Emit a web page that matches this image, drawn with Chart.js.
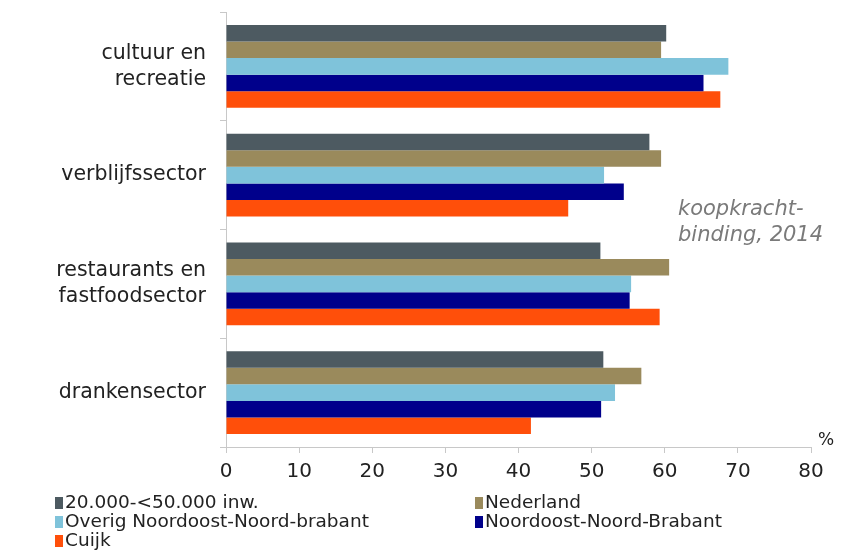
<!DOCTYPE html>
<html>
<head>
<meta charset="utf-8">
<script src="https://cdn.jsdelivr.net/npm/chart.js@4/dist/chart.umd.min.js"></script>
<style>
  html, body { margin: 0; padding: 0; background: #fff; }
  #wrap { position: relative; width: 846px; height: 551px; }
  #legend { position: absolute; left: 0; top: 0; width: 846px; height: 551px; pointer-events: none;
            font-family: "DejaVu Sans", Verdana, sans-serif; font-size: 18.5px; color: #222; }
  .li { position: absolute; white-space: nowrap; line-height: 19px; }
  .sw { display: inline-block; width: 8px; height: 12px; margin-right: 2px; vertical-align: -1px; }
</style>
</head>
<body>
<div id="wrap">
  <canvas id="c" width="846" height="551"></canvas>
  <div id="legend"></div>
</div>
<script>
const categories = [["cultuur en", "recreatie"], "verblijfssector", ["restaurants en", "fastfoodsector"], "drankensector"];
const seriesNames = ["20.000-<50.000 inw.", "Nederland", "Overig Noordoost-Noord-brabant", "Noordoost-Noord-Brabant", "Cuijk"];
const inw20000 = [60.2, 57.9, 51.2, 51.6];
const nederland = [59.5, 59.5, 60.6, 56.8];
const overigNONB = [68.7, 51.7, 55.4, 53.2];
const noordoostNB = [65.3, 54.4, 55.2, 51.3];
const cuijk = [67.6, 46.8, 59.3, 41.7];
const xTicks = [0, 10, 20, 30, 40, 50, 60, 70, 80];
const colors = ["#4d5a61", "#9a8a5c", "#7fc3da", "#00008b", "#ff4f0a"];
const annotation = ["koopkracht-", "binding, 2014"];
const unitLabel = "%";

const values = [inw20000, nederland, overigNONB, noordoostNB, cuijk];
const datasets = seriesNames.map((n, i) => ({
  label: n, data: values[i], backgroundColor: colors[i], borderWidth: 0,
  categoryPercentage: 0.76, barPercentage: 1.0
}));

const textPlugin = {
  id: 'texts',
  afterDraw(chart) {
    const ctx = chart.ctx, a = chart.chartArea;
    ctx.save();
    ctx.fillStyle = '#222';
    ctx.font = '17px "DejaVu Sans", Verdana, sans-serif';
    ctx.textAlign = 'left';
    ctx.textBaseline = 'middle';
    ctx.fillText(unitLabel, a.right + 7, a.bottom - 6);
    ctx.fillStyle = '#7a7a7a';
    ctx.font = 'italic 21px "DejaVu Sans", Verdana, sans-serif';
    annotation.forEach((t, i) => ctx.fillText(t, 678, 210 + i * 26));
    ctx.restore();
  }
};

const chart = new Chart(document.getElementById('c'), {
  type: 'bar',
  data: { labels: categories, datasets },
  options: {
    indexAxis: 'y',
    responsive: false,
    animation: false,
    events: [],
    layout: { padding: { left: 0, top: 12, right: 35, bottom: 64 } },
    plugins: { legend: { display: false }, tooltip: { enabled: false } },
    scales: {
      x: {
        min: 0, max: 80,
        afterBuildTicks: s => { s.ticks = xTicks.map(v => ({ value: v })); },
        afterFit: s => { s.height = 40; s.paddingLeft = 0; s.paddingRight = 0; },
        grid: { drawOnChartArea: false, drawTicks: true, tickLength: 6, color: '#c8c8c8' },
        border: { display: true, color: '#c8c8c8' },
        ticks: { color: '#222', padding: 7, font: { family: '"DejaVu Sans", Verdana, sans-serif', size: 20 } }
      },
      y: {
        afterFit: s => { s.width = 226; s.paddingTop = 0; s.paddingBottom = 0; },
        grid: { drawOnChartArea: false, drawTicks: true, tickLength: 6, color: '#c8c8c8', offset: true },
        border: { display: true, color: '#c8c8c8' },
        ticks: { color: '#222', padding: 14, font: { family: '"DejaVu Sans", Verdana, sans-serif', size: 20.5, lineHeight: 1.27 } }
      }
    }
  },
  plugins: [textPlugin]
});

// HTML legend built from the datasets
const legendPos = [[55, 492], [475, 492], [55, 511], [475, 511], [55, 530]];
const leg = document.getElementById('legend');
datasets.forEach((d, i) => {
  const el = document.createElement('div');
  el.className = 'li';
  el.style.left = legendPos[i][0] + 'px';
  el.style.top = legendPos[i][1] + 'px';
  const sw = document.createElement('span');
  sw.className = 'sw';
  sw.style.background = d.backgroundColor;
  el.appendChild(sw);
  el.appendChild(document.createTextNode(d.label));
  leg.appendChild(el);
});
</script>
</body>
</html>
